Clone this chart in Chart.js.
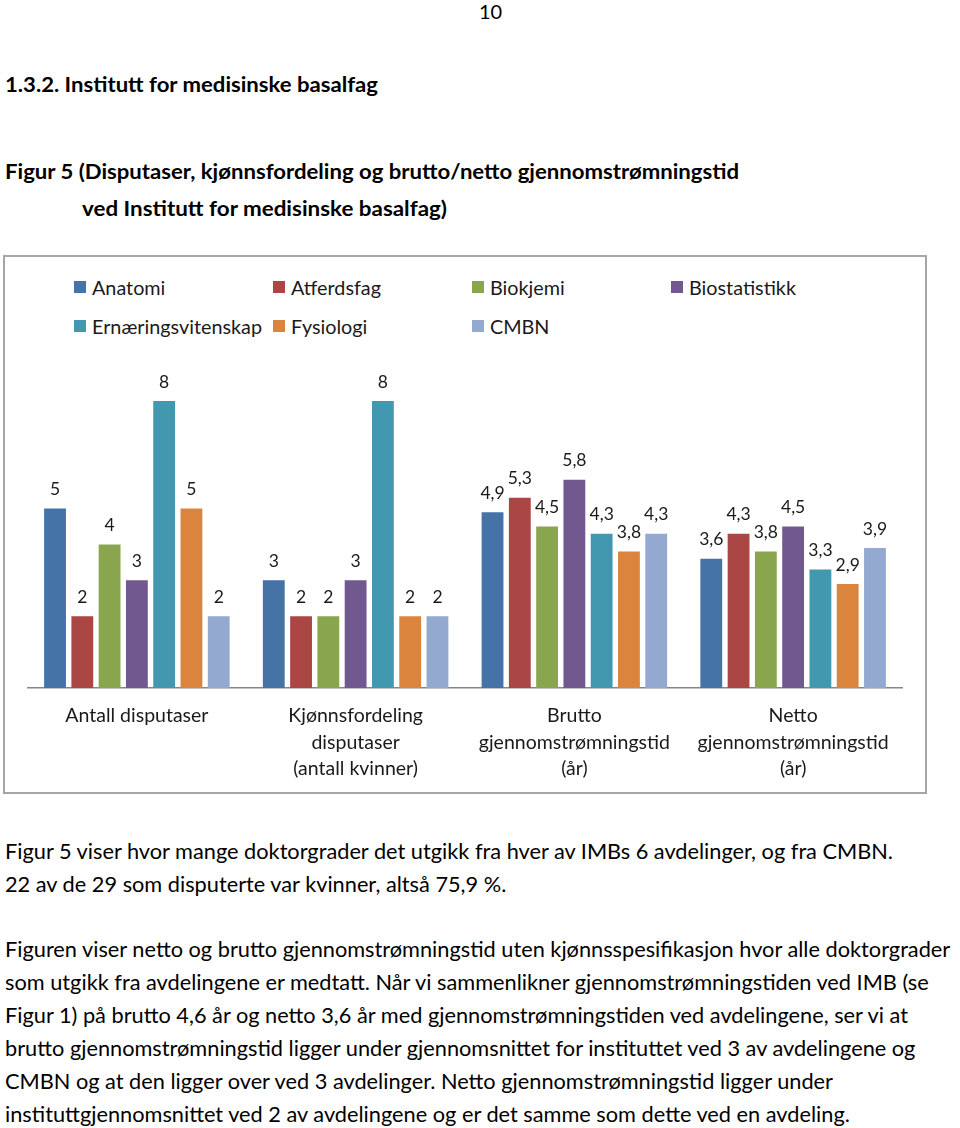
<!DOCTYPE html>
<html>
<head>
<meta charset="utf-8">
<script src="https://cdn.jsdelivr.net/npm/chart.js@4.4.1/dist/chart.umd.min.js"></script>
<style>
  html, body { margin:0; padding:0; background:#fff; }
  body { width:960px; height:1128px; position:relative; overflow:hidden; font-family:Lato, "Open Sans", sans-serif; color:#000; }
  .line { position:absolute; white-space:nowrap; transform-origin:0 50%; line-height:1; }
  .bold { font-weight:bold; }
  .body { font-size:21px; }
  #box { position:absolute; left:3px; top:255px; width:920px; height:535px; border:2px solid #a6a6a6; }
  #legend { position:absolute; left:74px; top:276px; display:grid; grid-template-columns:199px 199px 199px 199px; row-gap:17px; font-size:19.8px; color:#1a1a1a; }
  .li { display:flex; align-items:center; height:22px; }
  .sw { width:12px; height:12px; margin-right:6px; flex:none; }
  #cw { position:absolute; left:5px; top:345px; width:920px; height:445px; }
</style>
</head>
<body>
<div class="line" id="pn" style="left:479px; top:1px; font-size:20px;">10</div>
<div class="line bold fit" data-w="373" style="left:5px; top:74px; font-size:20.5px;">1.3.2. Institutt for medisinske basalfag</div>
<div class="line bold fit" data-w="734" style="left:5px; top:161px; font-size:20.5px;">Figur 5 (Disputaser, kjønnsfordeling og brutto/netto gjennomstrømningstid</div>
<div class="line bold fit" data-w="365" style="left:82px; top:198px; font-size:20.5px;">ved Institutt for medisinske basalfag)</div>

<div id="box"></div>
<div id="legend"></div>
<div id="cw"><canvas id="c"></canvas></div>

<div class="line body bfit" id="b0" style="left:5px; top:840px;">Figur 5 viser hvor mange doktorgrader det utgikk fra hver av IMBs 6 avdelinger, og fra CMBN.</div>
<div class="line body bfit" style="left:5px; top:873px;">22 av de 29 som disputerte var kvinner, altså 75,9 %.</div>
<div class="line body bfit" style="left:5px; top:938px;">Figuren viser netto og brutto gjennomstrømningstid uten kjønnsspesifikasjon hvor alle doktorgrader</div>
<div class="line body bfit" style="left:5px; top:971px;">som utgikk fra avdelingene er medtatt. Når vi sammenlikner gjennomstrømningstiden ved IMB (se</div>
<div class="line body bfit" style="left:5px; top:1004px;">Figur 1) på brutto 4,6 år og netto 3,6 år med gjennomstrømningstiden ved avdelingene, ser vi at</div>
<div class="line body bfit" style="left:5px; top:1037px;">brutto gjennomstrømningstid ligger under gjennomsnittet for instituttet ved 3 av avdelingene og</div>
<div class="line body bfit" style="left:5px; top:1070px;">CMBN og at den ligger over ved 3 avdelinger. Netto gjennomstrømningstid ligger under</div>
<div class="line body bfit" style="left:5px; top:1103px;">instituttgjennomsnittet ved 2 av avdelingene og er det samme som dette ved en avdeling.</div>

<script>
// ---- data ----
const categories = [
  ["Antall disputaser"],
  ["Kjønnsfordeling", "disputaser", "(antall kvinner)"],
  ["Brutto", "gjennomstrømningstid", "(år)"],
  ["Netto", "gjennomstrømningstid", "(år)"]
];
const seriesNames = ["Anatomi", "Atferdsfag", "Biokjemi", "Biostatistikk", "Ernæringsvitenskap", "Fysiologi", "CMBN"];
const anatomi       = [5, 3, 4.9, 3.6];
const atferdsfag    = [2, 2, 5.3, 4.3];
const biokjemi      = [4, 2, 4.5, 3.8];
const biostatistikk = [3, 3, 5.8, 4.5];
const ernaering     = [8, 8, 4.3, 3.3];
const fysiologi     = [5, 2, 3.8, 2.9];
const cmbn          = [2, 2, 4.3, 3.9];
const seriesValues = [anatomi, atferdsfag, biokjemi, biostatistikk, ernaering, fysiologi, cmbn];
const seriesColors = ["#4572A7", "#AA4643", "#89A54E", "#71588F", "#4198AF", "#DB843D", "#93A9CF"];

// ---- text fitting (match the reference line widths) ----
document.querySelectorAll('.fit').forEach(el => {
  const w = el.getBoundingClientRect().width;
  el.style.transform = 'scaleX(' + (parseFloat(el.dataset.w) / w) + ')';
});
(function(){
  const ref = document.getElementById('b0');
  const s = 888 / ref.getBoundingClientRect().width;
  document.querySelectorAll('.bfit').forEach(el => { el.style.transform = 'scaleX(' + s + ')'; });
})();

// ---- legend ----
const legendEl = document.getElementById('legend');
seriesNames.forEach((n, i) => {
  const d = document.createElement('div');
  d.className = 'li';
  d.innerHTML = '<span class="sw" style="background:' + seriesColors[i] + '"></span><span>' + n + '</span>';
  legendEl.appendChild(d);
});

// ---- value labels ----
const valueLabels = {
  id: 'valueLabels',
  afterDatasetsDraw(chart) {
    const ctx = chart.ctx;
    ctx.save();
    ctx.font = '17.5px Lato, sans-serif';
    ctx.fillStyle = '#1a1a1a';
    ctx.textAlign = 'center';
    ctx.textBaseline = 'middle';
    chart.data.datasets.forEach((ds, di) => {
      chart.getDatasetMeta(di).data.forEach((bar, i) => {
        ctx.fillText(String(ds.data[i]).replace('.', ','), bar.x, bar.y - 19);
      });
    });
    ctx.restore();
  }
};

new Chart(document.getElementById('c'), {
  type: 'bar',
  data: {
    labels: categories,
    datasets: seriesNames.map((n, i) => ({
      label: n,
      data: seriesValues[i],
      backgroundColor: seriesColors[i],
      borderWidth: 0,
      categoryPercentage: 0.873,
      barPercentage: 0.8
    }))
  },
  options: {
    responsive: true,
    maintainAspectRatio: false,
    animation: false,
    layout: { padding: { left: 22.5, right: 22.5, top: 20, bottom: 0 } },
    plugins: { legend: { display: false }, tooltip: { enabled: false } },
    scales: {
      y: { display: false, min: 0, max: 9 },
      x: {
        grid: { display: false, drawTicks: false },
        border: { display: true, color: '#868686', width: 1.5 },
        ticks: { color: '#1a1a1a', font: { family: 'Lato', size: 19.5, lineHeight: 1.35 }, padding: 15, maxRotation: 0, autoSkip: false },
        afterFit: s => { s.height = 102; }
      }
    }
  },
  plugins: [valueLabels]
});
</script>
</body>
</html>
